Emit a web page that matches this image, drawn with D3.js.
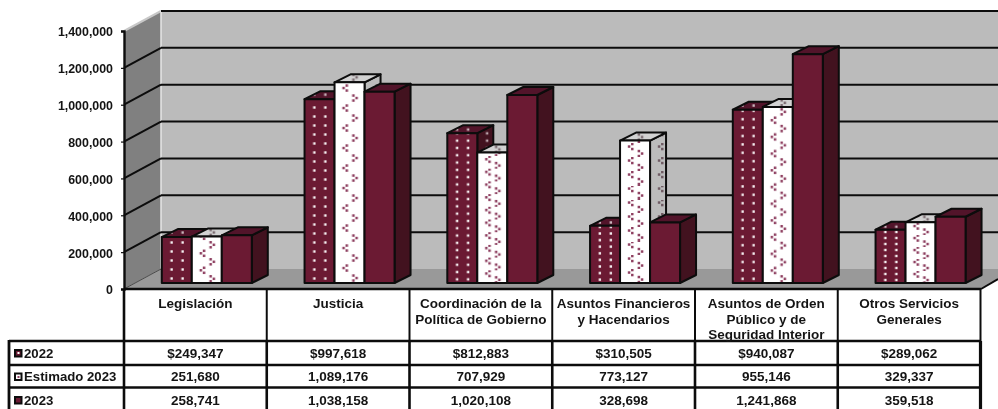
<!DOCTYPE html>
<html><head><meta charset="utf-8">
<script src="https://cdn.jsdelivr.net/npm/d3@7/dist/d3.min.js"></script>
<style>html,body{margin:0;padding:0;background:#fff}svg{display:block;filter:blur(0.35px)}
text{font-family:"Liberation Sans",Arial,sans-serif;font-weight:bold;font-size:13.5px;fill:#141414}</style>
</head><body><script>
const categories=[["Legislación"],["Justicia"],["Coordinación de la","Política de Gobierno"],["Asuntos Financieros","y Hacendarios"],["Asuntos de Orden","Público y de","Seguridad Interior"],["Otros Servicios","Generales"]];
const seriesNames=["2022","Estimado 2023","2023"];
const values2022=[249347,997618,812883,310505,940087,289062];
const valuesEst=[251680,1089176,707929,773127,955146,329337];
const values2023=[258741,1038158,1020108,328698,1241868,359518];
const labels2022=["$249,347","$997,618","$812,883","$310,505","$940,087","$289,062"];
const labelsEst=["251,680","1,089,176","707,929","773,127","955,146","329,337"];
const labels2023=["258,741","1,038,158","1,020,108","328,698","1,241,868","359,518"];
const yTicks=[0,200000,400000,600000,800000,1000000,1200000,1400000];

const W=998,H=409,ink="#0c0c0c";
const svg=d3.select("body").append("svg").attr("width",W).attr("height",H);
const y=d3.scaleLinear().domain([0,1400000]).range([289,31]);
const x=d3.scaleBand().domain(d3.range(6)).range([124,980.5]);
const inner=d3.scaleBand().domain(d3.range(3)).range([0,90]);
const dx=37,dy=-20,bdx=16,bdy=-8,barX=37.8,barY=-6;
const defs=svg.append("defs");
const mar="#6b1a33",marSide="#42121f",marTop="#52142a",pink="#8e3f60";
// stretched fill pattern repeats, per category, as in the picture
const dotH=[9,9,7.3,6.6,8.4,6];
const triH=[17,20,12.7,14,16.7,12];
function dots(id,bg,fg,h,tx,ty){
  const p=defs.append("pattern").attr("id",id).attr("patternUnits","userSpaceOnUse").attr("width",30).attr("height",h)
    .attr("patternTransform",`translate(${tx},${ty})`);
  p.append("rect").attr("width",30).attr("height",h).attr("fill",bg);
  [8.6,19.6].forEach(cx=>p.append("rect").attr("x",cx).attr("y",h/2-1.2).attr("width",2.4).attr("height",2.4).attr("fill",fg));
}
function tris(id,bg,fg,h,tx,ty){
  const p=defs.append("pattern").attr("id",id).attr("patternUnits","userSpaceOnUse").attr("width",30).attr("height",h)
    .attr("patternTransform",`translate(${tx},${ty})`);
  p.append("rect").attr("width",30).attr("height",h).attr("fill",bg);
  [[9,h*0.25,1],[22,h*0.75,-1]].forEach(([cx,cy,s])=>{
    [[0,0],[3.2*s,-2.5],[3.2*s,2.5]].forEach(o=>p.append("rect").attr("x",cx+o[0]-1.2).attr("y",cy+o[1]-1.2).attr("width",2.5).attr("height",2.5).attr("fill",fg));
  });
}
// walls and floor
const poly=(pts,fill)=>svg.append("polygon").attr("points",pts.map(p=>p.join(",")).join(" ")).attr("fill",fill);
poly([[161,y(1400000)+dy],[W,y(1400000)+dy],[W,y(0)+dy],[161,y(0)+dy]],"#bbbbbb");
poly([[124,y(1400000)],[161,y(1400000)+dy],[161,y(0)+dy],[124,y(0)]],"#808080");
poly([[124,y(0)],[161,y(0)+dy],[W,y(0)+dy],[W,279],[981,y(0)]],"#999999");
svg.append("line").attr("x1",124).attr("y1",y(1400000)).attr("x2",161).attr("y2",y(1400000)+dy).attr("stroke","#c8c8c8").attr("stroke-width",2);
svg.append("line").attr("x1",161).attr("y1",y(1400000)+dy).attr("x2",161).attr("y2",y(0)+dy).attr("stroke","#e6e6e6").attr("stroke-width",1.5);
svg.append("line").attr("x1",124).attr("y1",y(0)).attr("x2",161).attr("y2",y(0)+dy).attr("stroke","#4a4a4a").attr("stroke-width",1);
// gridlines
yTicks.forEach(t=>{
  if(t>0){
  svg.append("line").attr("x1",161).attr("x2",W).attr("y1",y(t)+dy).attr("y2",y(t)+dy).attr("stroke",ink).attr("stroke-width",2);
  if(t<1400000)svg.append("line").attr("x1",124).attr("x2",161).attr("y1",y(t)).attr("y2",y(t)+dy).attr("stroke",ink).attr("stroke-width",2);
  }
});
// axis
const axis=d3.axisLeft(y).tickValues(yTicks).tickFormat(d3.format(",")).tickSize(3).tickPadding(8);
const ag=svg.append("g").attr("transform","translate(124,0)").call(axis);
ag.select(".domain").attr("stroke",ink).attr("stroke-width",2.4);
ag.selectAll(".tick line").attr("stroke",ink).attr("stroke-width",1.2);
ag.selectAll("text").attr("fill","#141414").attr("dy","0.32em").attr("y",1).style("font-size","12.4px");
// bars
const series=[values2022,valuesEst,values2023];
categories.forEach((c,i)=>{
  series.forEach((s,k)=>{
    const x0=x(i)+barX+inner(k),x1=x0+inner.bandwidth(),top=y(s[i])+barY,base=y(0)+barY;
    let f=[mar,marTop,marSide];
    if(k<2){
      const mk=k==0?dots:tris,h=k==0?dotH[i]:triH[i],id=(k==0?"d":"e")+i;
      const cols=k==0?[mar,marTop,marSide]:["#ffffff","#d2d2d2","#bcbcbc"];
      const fg=k==0?"#f6f0f2":pink;
      mk(id+"f",cols[0],fg,h,x0,base);
      mk(id+"t",cols[1],k==0?"#c9b6bd":"#7a6a70",h,x0,top);
      mk(id+"s",cols[2],k==0?"#bda8b0":"#6e5a62",h,x1,base);
      f=[`url(#${id}f)`,`url(#${id}t)`,`url(#${id}s)`];
    }
    const g=svg.append("g").attr("stroke",ink).attr("stroke-width",2).attr("stroke-linejoin","round");
    g.append("polygon").attr("points",`${x1},${top} ${x1+bdx},${top+bdy} ${x1+bdx},${base+bdy} ${x1},${base}`).attr("fill",f[2]);
    g.append("polygon").attr("points",`${x0},${top} ${x0+bdx},${top+bdy} ${x1+bdx},${top+bdy} ${x1},${top}`).attr("fill",f[1]);
    g.append("rect").attr("x",x0).attr("y",top).attr("width",x1-x0).attr("height",base-top).attr("fill",f[0]);
  });
});
// table
const rowY=[341,365,387.5];
const tl=(a,b,c,d,w)=>svg.append("line").attr("x1",a).attr("y1",b).attr("x2",c).attr("y2",d).attr("stroke",ink).attr("stroke-width",w);
tl(124,289,981,289,2.4);
tl(981,289,W,279,2);
rowY.forEach(v=>tl(9,v,981,v,2.6));
tl(9,340,9,409,2.8);
d3.range(7).forEach(i=>{const X=i==6?980.5:x(i);
  tl(X,289,X,341,i==0?2.6:2);
  tl(X,341,X,409,i==6?3.2:2.6);});
categories.forEach((c,i)=>{
  const t=svg.append("text").attr("text-anchor","middle").attr("y",308);
  c.forEach((l,j)=>t.append("tspan").attr("x",x(i)+x.bandwidth()/2).attr("dy",j?15.5:0).text(l));
});
[labels2022,labelsEst,labels2023].forEach((r,k)=>{
  const Y=[357.5,381,404.5][k];
  r.forEach((v,i)=>svg.append("text").attr("text-anchor","middle").attr("x",x(i)+x.bandwidth()/2).attr("y",Y).text(v));
  svg.append("rect").attr("x",15).attr("y",Y-7.5).attr("width",6.5).attr("height",6.5).attr("fill",[mar,"#fff",mar][k]).attr("stroke",ink).attr("stroke-width",2);
  if(k==0)svg.append("rect").attr("x",17.5).attr("y",Y-5.5).attr("width",2).attr("height",2).attr("fill","#fff");
  if(k==1)svg.append("rect").attr("x",17.5).attr("y",Y-5).attr("width",2).attr("height",2).attr("fill",pink);
  svg.append("text").attr("x",24).attr("y",Y).style("font-size","13.2px").text(seriesNames[k]);
});
</script></body></html>
